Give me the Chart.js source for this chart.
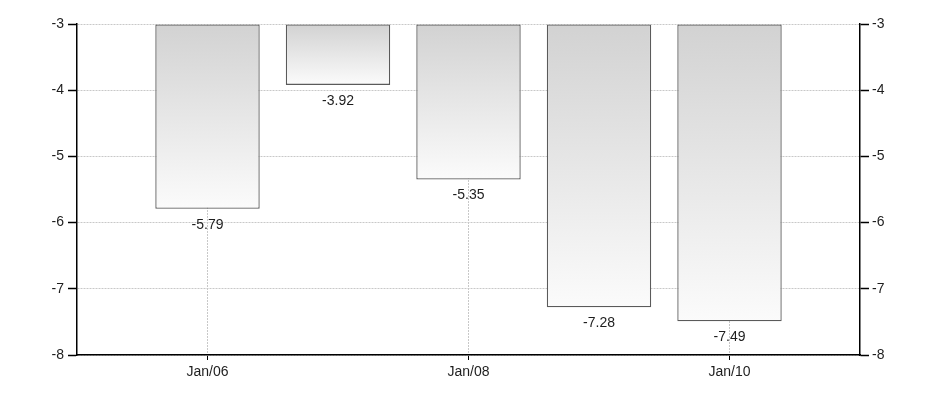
<!DOCTYPE html>
<html>
<head>
<meta charset="utf-8">
<script src="https://cdn.jsdelivr.net/npm/chart.js@4/dist/chart.umd.min.js"></script>
<style>
  body { margin: 0; background: #fff; }
</style>
</head>
<body>
<canvas id="chart" width="937" height="402"></canvas>
<script>
const years = [2006, 2007, 2008, 2009, 2010];
const values = [-5.79, -3.92, -5.35, -7.28, -7.49];
const tickYears = [2006, 2008, 2010];
const yMin = -8, yMax = -3, barBase = -3;

const font = { family: 'Liberation Sans, Arial, sans-serif', size: 14 };
const textColor = '#1e1e1e';
const gridColor = '#c8c8c8';

function yearLabel(v) {
  return 'Jan/' + String(v).slice(2);
}

// draws the value under each bar
const valueLabels = {
  id: 'valueLabels',
  afterDatasetsDraw(chart) {
    const ctx = chart.ctx;
    const meta = chart.getDatasetMeta(0);
    ctx.save();
    ctx.font = font.size + 'px ' + font.family;
    ctx.fillStyle = textColor;
    ctx.textAlign = 'center';
    ctx.textBaseline = 'middle';
    meta.data.forEach((bar, i) => {
      ctx.fillText(values[i].toFixed(2), bar.x, bar.y + 16);
    });
    ctx.restore();
  }
};

function barGradient(c) {
  const chart = c.chart;
  if (!chart.chartArea || c.type !== 'data') return '#ddd';
  const y = chart.scales.y;
  const top = y.getPixelForValue(barBase);
  const bottom = y.getPixelForValue(values[c.dataIndex]);
  const g = chart.ctx.createLinearGradient(0, top, 0, bottom);
  g.addColorStop(0, '#d2d2d2');
  g.addColorStop(1, '#fbfbfb');
  return g;
}

new Chart(document.getElementById('chart'), {
  type: 'bar',
  data: {
    datasets: [{
      data: years.map((yr, i) => ({ x: yr, y: values[i] })),
      base: barBase,
      backgroundColor: barGradient,
      borderColor: '#5a5a5a',
      borderWidth: 1.3,
      borderSkipped: false,
      barPercentage: 0.8,
      categoryPercentage: 1
    }]
  },
  options: {
    responsive: false,
    animation: false,
    layout: { padding: { top: 24 } },
    plugins: { legend: { display: false }, tooltip: { enabled: false } },
    scales: {
      x: {
        type: 'linear',
        offset: false,
        min: years[0] - 1,
        max: years[years.length - 1] + 1,
        afterBuildTicks: s => { s.ticks = tickYears.map(v => ({ value: v })); },
        afterFit: s => { s.height = 47; },
        grid: { offset: false, color: gridColor, tickColor: '#000', tickLength: 5 },
        border: { color: '#000', width: 1.5, dash: [2, 1] },
        ticks: { color: textColor, font, padding: 4, maxRotation: 0, autoSkip: false,
          callback: v => yearLabel(v) }
      },
      y: {
        position: 'left',
        min: yMin, max: yMax,
        afterFit: s => { s.width = 77; },
        grid: { color: gridColor, tickColor: '#000', tickLength: 9, tickWidth: 1.5 },
        border: { color: '#000', width: 1.5, dash: [2, 1] },
        ticks: { stepSize: 1, color: textColor, font, padding: 4 }
      },
      y2: {
        position: 'right',
        min: yMin, max: yMax,
        afterFit: s => { s.width = 77; },
        grid: { drawOnChartArea: false, tickColor: '#000', tickLength: 9, tickWidth: 1.5 },
        border: { color: '#000', width: 1.5 },
        ticks: { stepSize: 1, color: textColor, font, padding: 3 }
      }
    }
  },
  plugins: [valueLabels]
});
</script>
</body>
</html>
